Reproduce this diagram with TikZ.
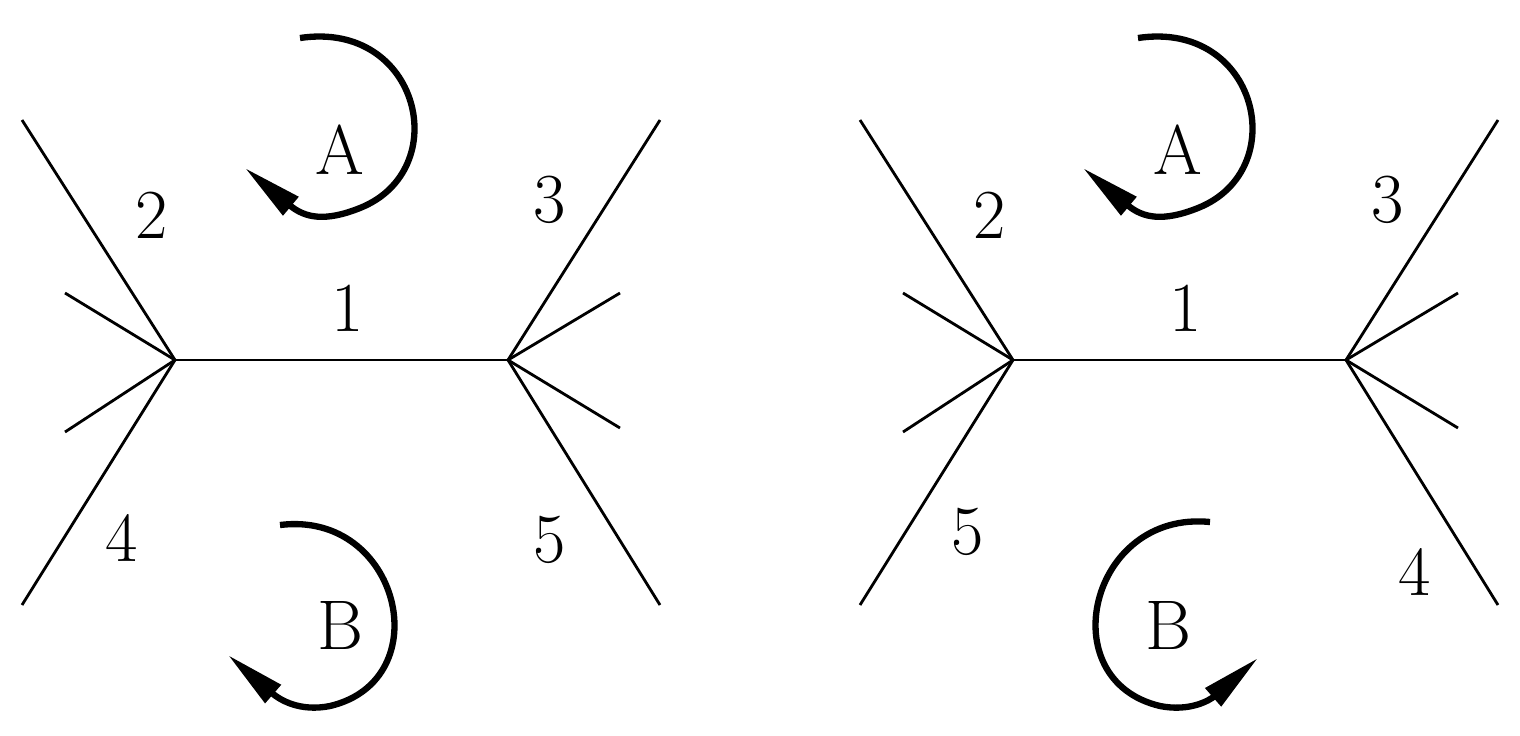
\documentclass[tikz,border=0pt]{standalone}
\usetikzlibrary{arrows.meta}
\begin{document}
\begin{tikzpicture}[x=0.02cm,y=-0.02cm,
  edge/.style={line width=1.6pt},
  turn/.style={line width=3.6pt,-{Triangle[length=34pt,width=13pt]}},
  lbl/.style={font=\fontsize{40}{42}\selectfont}]
\useasboundingbox (0,0) rectangle (1520,735);
\foreach \dx/\lt/\lb/\rt/\rb/\lbx/\lby/\rbx/\rby in {0/2/4/3/5/122/538/550/540, 838/2/5/3/4/968/532/1415/572}{
  \begin{scope}[xshift=\dx*0.02cm]
  \coordinate (L) at (175,360); \coordinate (R) at (508,360);
  \coordinate (l1) at (22,120); \coordinate (l2) at (65,293);
  \coordinate (l3) at (65,432); \coordinate (l4) at (22,605);
  \coordinate (r1) at (660,120); \coordinate (r2) at (620,293);
  \coordinate (r3) at (620,428); \coordinate (r4) at (660,605);
  \draw[edge] (L) -- (R);
  \foreach \p in {l1,l2,l3,l4} \draw[edge] (L) -- (\p);
  \foreach \p in {r1,r2,r3,r4} \draw[edge] (R) -- (\p);
  \node[lbl] (n2) at (152,215) {\lt};
  \node[lbl] (n1) at (348,308) {1};
  \node[lbl] (n3) at (550,200) {\rt};
  \node[lbl] (na) at (340,150) {A};
  \end{scope}
  \node[lbl] (nb1) at (\lbx,\lby) {\lb};
  \node[lbl] (nb2) at (\rbx,\rby) {\rb};
  \draw[turn,xshift=\dx*0.02cm] (300,38) .. controls (420,20) and (455,170) .. (360,208) .. controls (325,222) and (305,218) .. (245,168);
}
\node[lbl] (B1) at (340,625) {B};
\node[lbl] (B2) at (1168,625) {B};
\draw[turn] (280,525) .. controls (400,510) and (440,680) .. (330,706) .. controls (300,712) and (280,700) .. (228,655);
\draw[turn] (1210,522) .. controls (1090,510) and (1050,680) .. (1160,706) .. controls (1190,712) and (1210,700) .. (1258,658);
\end{tikzpicture}
\end{document}
